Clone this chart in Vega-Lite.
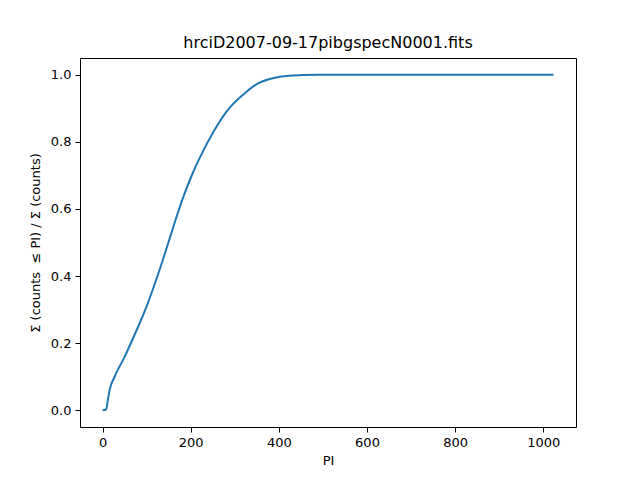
{
  "$schema": "https://vega.github.io/schema/vega-lite/v6.json",
  "width": 496,
  "height": 369,
  "autosize": "none",
  "padding": {"left": 80, "top": 58, "right": 64, "bottom": 53},
  "background": "white",
  "title": {"text": "hrciD2007-09-17pibgspecN0001.fits", "font": "DejaVu Sans", "fontSize": 16, "fontWeight": "normal", "color": "black", "offset": 7, "anchor": "middle"},
  "config": {
    "view": {"stroke": "black", "strokeWidth": 1},
    "axis": {
      "labelFont": "DejaVu Sans", "labelFontSize": 13, "labelColor": "black",
      "titleFont": "DejaVu Sans", "titleFontSize": 13, "titleFontWeight": "normal", "titleColor": "black",
      "tickColor": "black", "tickSize": 5, "tickWidth": 1, "domain": false, "grid": false, "labelPadding": 4
    }
  },
  "data": {"values": [
    {"PI": 0, "frac": 0},
    {"PI": 8, "frac": 0.002},
    {"PI": 12, "frac": 0.03},
    {"PI": 16, "frac": 0.06},
    {"PI": 27, "frac": 0.099},
    {"PI": 50, "frac": 0.159},
    {"PI": 72, "frac": 0.223},
    {"PI": 95, "frac": 0.293},
    {"PI": 114, "frac": 0.36},
    {"PI": 136, "frac": 0.445},
    {"PI": 159, "frac": 0.54},
    {"PI": 181, "frac": 0.628},
    {"PI": 204, "frac": 0.705},
    {"PI": 223, "frac": 0.759},
    {"PI": 253, "frac": 0.833},
    {"PI": 283, "frac": 0.893},
    {"PI": 321, "frac": 0.943},
    {"PI": 347, "frac": 0.97},
    {"PI": 384, "frac": 0.989},
    {"PI": 422, "frac": 0.997},
    {"PI": 490, "frac": 1.0},
    {"PI": 1023, "frac": 1.0}
  ]},
  "mark": {"type": "line", "color": "#1f77b4", "strokeWidth": 2, "interpolate": "monotone", "clip": true},
  "encoding": {
    "x": {"field": "PI", "type": "quantitative", "title": "PI",
      "scale": {"domain": [-51.15, 1074.15], "nice": false, "zero": false},
      "axis": {"values": [0, 200, 400, 600, 800, 1000], "format": "d", "titlePadding": 5}},
    "y": {"field": "frac", "type": "quantitative", "title": "Σ (counts \u00a0≤ PI) / Σ (counts)",
      "scale": {"domain": [-0.05, 1.05], "nice": false, "zero": false},
      "axis": {"values": [0, 0.2, 0.4, 0.6, 0.8, 1.0], "format": ".1f", "titlePadding": 8}}
  }
}
